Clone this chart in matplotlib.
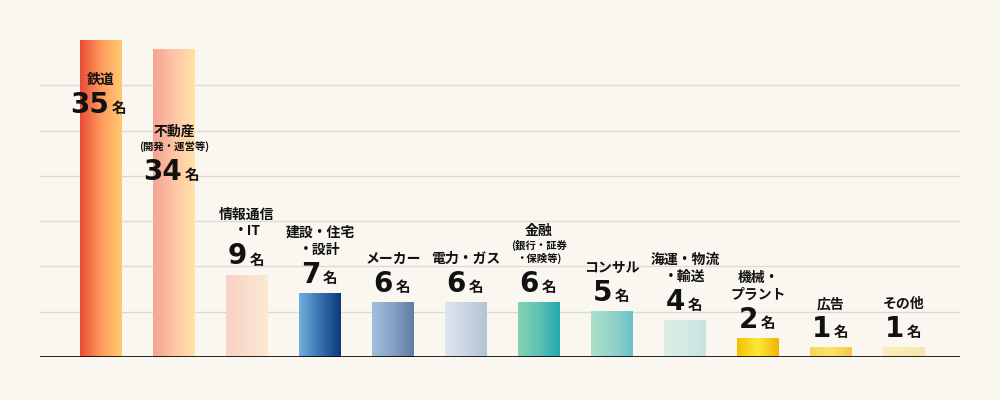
import numpy as np
import matplotlib.pyplot as plt
from matplotlib.colors import LinearSegmentedColormap

plt.rcParams['font.family'] = ['Noto Sans CJK JP', 'DejaVu Sans']

# ---- data ----
categories = ['鉄道', '不動産', '情報通信・IT', '建設・住宅・設計', 'メーカー', '電力・ガス',
              '金融', 'コンサル', '海運・物流・輸送', '機械・プラント', '広告', 'その他']
values = [35, 34, 9, 7, 6, 6, 6, 5, 4, 2, 1, 1]
label_lines = [['鉄道'], ['不動産', '(開発・運営等)'], ['情報通信', '・IT'], ['建設・住宅', '・設計'],
               ['メーカー'], ['電力・ガス'], ['金融', '(銀行・証券', '・保険等)'], ['コンサル'],
               ['海運・物流', '・輸送'], ['機械・', 'プラント'], ['広告'], ['その他']]
small_lines = {(1, 1), (6, 1), (6, 2)}

# ---- style ----
gradients = [['#E84C36', '#FF9A5C', '#FFC870'], ['#F4A494', '#FFC4A4', '#FFE2AA'],
             ['#F8D2C6', '#FADDCC', '#FBE9D2'], ['#6FAEDC', '#3A72B0', '#0B3A7C'],
             ['#A2BEDC', '#86A2C4', '#5E7EA8'], ['#DDE6EE', '#CAD6E2', '#B4C4D4'],
             ['#86D2B2', '#5EC2B4', '#22A8B0'], ['#AEDFCA', '#94D4CA', '#6CC2C8'],
             ['#DCEEE4', '#D4EAE2', '#C6E4E0'], ['#F2C200', '#FFE83A', '#F2B400'],
             ['#F8D65A', '#FBE466', '#F6C84C'], ['#FAEDB8', '#FAEAB6', '#F8E4AE']]
label_top_px = {0: 105, 1: 172}   # number centre (pixels from top) for labels inside bars
bg = '#F9F7F0'

fig = plt.figure(figsize=(10, 4), dpi=100, facecolor=bg)
ax = fig.add_axes([0.04, (400 - 357) / 400, 0.92, (357 - 40) / 400])
ax.set_facecolor(bg)
x = np.arange(len(categories))
w = 0.575
ax.set_xlim(-(101 - 40) / 73, (960 - 101) / 73)
ax.set_ylim(0, 35)

for yv in range(5, 35, 5):
    ax.axhline(yv, color='#DEDAD2', lw=1, zorder=0)

grad = np.linspace(0, 1, 64).reshape(1, -1)
for i, v in enumerate(values):
    cmap = LinearSegmentedColormap.from_list('g%d' % i, gradients[i])
    ax.imshow(grad, cmap=cmap, aspect='auto', extent=[x[i] - w / 2, x[i] + w / 2, 0, v], zorder=2)

ax.axhline(0, color='black', lw=1.2, zorder=3)
for s in ax.spines.values():
    s.set_visible(False)
ax.set_xticks([])
ax.set_yticks([])

px = 0.72  # points per pixel at dpi 100
for i, v in enumerate(values):
    if i in label_top_px:
        y0 = 35 - (label_top_px[i] - 40) / 9.06
        off = 0
    else:
        y0 = v
        off = 19
    n = len(str(v))
    num_right = (16 * n - 16) / 2
    ax.annotate(str(v), (x[i], y0), xytext=(num_right * px, off * px), textcoords='offset points',
                ha='right', va='center', fontsize=20, fontweight='bold', color='#111', zorder=5,
                family='DejaVu Sans')
    ax.annotate('名', (x[i], y0), xytext=((num_right + 3) * px, (off - 3) * px),
                textcoords='offset points', ha='left', va='center', fontsize=10.5,
                fontweight='bold', color='#111', zorder=5)
    lines = label_lines[i]
    pos = off + 25
    for j in range(len(lines) - 1, -1, -1):
        small = (i, j) in small_lines
        ax.annotate(lines[j], (x[i], y0), xytext=(0, pos * px), textcoords='offset points',
                    ha='center', va='center', fontsize=7.5 if small else 10, fontweight='bold',
                    color='#111', zorder=5)
        nxt_small = (i, j - 1) in small_lines
        pos += 13 if (small and nxt_small) else (15 if small else 17)

fig.savefig('out.png', dpi=100, facecolor=bg)
